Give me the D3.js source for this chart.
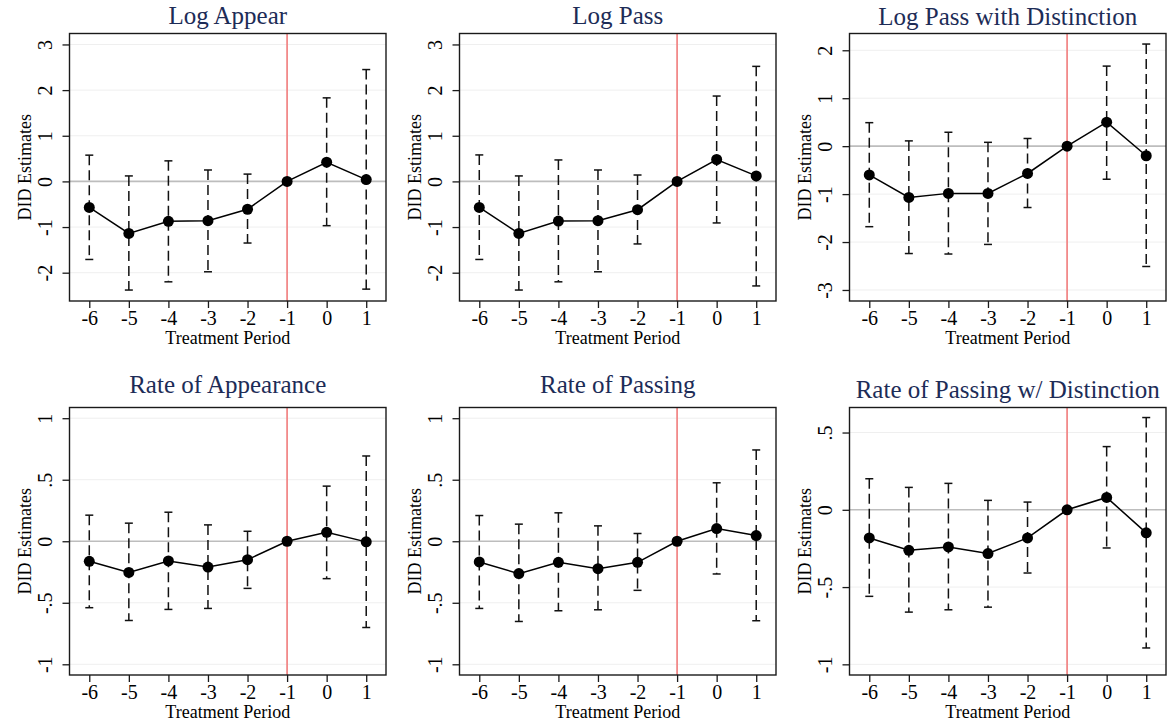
<!DOCTYPE html>
<html>
<head>
<meta charset="utf-8">
<script src="https://cdn.jsdelivr.net/npm/d3@7"></script>
<style>
  html, body { margin: 0; padding: 0; background: #fff; }
  svg { display: block; }
  text { font-family: "Liberation Serif", "Times New Roman", serif; }
</style>
</head>
<body>
<svg id="chart" width="1172" height="728"></svg>
<script>
// ---------- DATA ----------
const periods = [-6, -5, -4, -3, -2, -1, 0, 1];
const periodTicks = [-6, -5, -4, -3, -2, -1, 0, 1];
const eventPeriod = -1;

const titles = [
  "Log Appear", "Log Pass", "Log Pass with Distinction",
  "Rate of Appearance", "Rate of Passing", "Rate of Passing w/ Distinction"
];

// Log Appear
const estLogAppear = [-0.57, -1.14, -0.875, -0.86, -0.61, 0, 0.42, 0.04];
const loLogAppear  = [-1.71, -2.38, -2.20, -1.98, -1.35, null, -0.97, -2.36];
const hiLogAppear  = [0.575, 0.12, 0.45, 0.25, 0.16, null, 1.83, 2.45];

// Log Pass
const estLogPass = [-0.57, -1.14, -0.87, -0.86, -0.62, 0, 0.48, 0.12];
const loLogPass  = [-1.71, -2.38, -2.20, -1.98, -1.37, null, -0.91, -2.29];
const hiLogPass  = [0.58, 0.12, 0.47, 0.25, 0.14, null, 1.87, 2.52];

// Log Pass with Distinction
const estLogDist = [-0.60, -1.07, -0.985, -0.985, -0.57, 0, 0.50, -0.20];
const loLogDist  = [-1.68, -2.24, -2.25, -2.05, -1.28, null, -0.69, -2.51];
const hiLogDist  = [0.49, 0.11, 0.29, 0.08, 0.16, null, 1.67, 2.13];

// Rate of Appearance
const estRateAppear = [-0.163, -0.253, -0.160, -0.210, -0.150, 0, 0.073, -0.005];
const loRateAppear  = [-0.540, -0.644, -0.554, -0.546, -0.383, null, -0.304, -0.701];
const hiRateAppear  = [0.212, 0.147, 0.236, 0.133, 0.081, null, 0.448, 0.693];

// Rate of Passing
const estRatePass = [-0.168, -0.263, -0.171, -0.223, -0.171, 0, 0.103, 0.046];
const loRatePass  = [-0.546, -0.652, -0.565, -0.557, -0.399, null, -0.266, -0.646];
const hiRatePass  = [0.209, 0.139, 0.231, 0.125, 0.063, null, 0.475, 0.742];

// Rate of Passing w/ Distinction
const estRateDist = [-0.182, -0.262, -0.240, -0.283, -0.182, 0, 0.080, -0.149];
const loRateDist  = [-0.560, -0.662, -0.647, -0.630, -0.409, null, -0.247, -0.894];
const hiRateDist  = [0.201, 0.145, 0.171, 0.061, 0.050, null, 0.409, 0.597];

// y tick labels
const ticksLog     = [-2, -1, 0, 1, 2, 3];
const ticksLogDist = [-3, -2, -1, 0, 1, 2];
const ticksRate    = [-1, -0.5, 0, 0.5, 1];
const ticksRateDist = [-1, -0.5, 0, 0.5];

// y axis ranges
const domLog     = [-2.62, 3.24];
const domLogDist = [-3.23, 2.35];
const domRate    = [-1.087, 1.087];
const domRateDist = [-1.069, 0.662];

const xLabel = "Treatment Period";
const yLabel = "DID Estimates";

// ---------- PANELS ----------
const panels = [
  { title: titles[0], est: estLogAppear, lo: loLogAppear, hi: hiLogAppear, ticks: ticksLog, dom: domLog },
  { title: titles[1], est: estLogPass, lo: loLogPass, hi: hiLogPass, ticks: ticksLog, dom: domLog },
  { title: titles[2], est: estLogDist, lo: loLogDist, hi: hiLogDist, ticks: ticksLogDist, dom: domLogDist },
  { title: titles[3], est: estRateAppear, lo: loRateAppear, hi: hiRateAppear, ticks: ticksRate, dom: domRate },
  { title: titles[4], est: estRatePass, lo: loRatePass, hi: hiRatePass, ticks: ticksRate, dom: domRate },
  { title: titles[5], est: estRateDist, lo: loRateDist, hi: hiRateDist, ticks: ticksRateDist, dom: domRateDist }
];

const svg = d3.select("#chart");
const colX = [0, 390, 780];
const rowY = [0, 374];
const plotL = 69.5, plotW = 316.5, plotT = 33.5, plotH = 267.5;
const titleColor = "#1d2c57";
const titleBase = [23.5, 23.5, 24.5, 19, 18.5, 23.5];

const fmtY = d => String(d).replace("0.", ".");
const fmtX = d => String(d);

panels.forEach((p, i) => {
  const col = i % 3, row = Math.floor(i / 3);
  const g = svg.append("g").attr("transform", `translate(${colX[col]},${rowY[row]})`);

  const x = d3.scaleLinear().domain([-6.5, 1.5]).range([plotL, plotL + plotW]);
  const y = d3.scaleLinear().domain(p.dom).range([plotT + plotH, plotT]);

  // gridlines
  g.append("g").selectAll("line").data(p.ticks.filter(t => t !== 0)).join("line")
    .attr("x1", plotL).attr("x2", plotL + plotW)
    .attr("y1", d => y(d)).attr("y2", d => y(d))
    .attr("stroke", "#efefef").attr("stroke-width", 1);

  // zero line
  g.append("line")
    .attr("x1", plotL).attr("x2", plotL + plotW)
    .attr("y1", y(0)).attr("y2", y(0))
    .attr("stroke", "#bdbdbd").attr("stroke-width", 1.6);

  // red event line
  g.append("line")
    .attr("x1", x(eventPeriod)).attr("x2", x(eventPeriod))
    .attr("y1", plotT).attr("y2", plotT + plotH)
    .attr("stroke", "#f28a8a").attr("stroke-width", 1.8);

  // error bars: dashed stems with solid caps
  const bars = periods.map((t, k) => ({ t, lo: p.lo[k], hi: p.hi[k] })).filter(d => d.lo !== null);
  const capW = 4;
  const eb = g.append("g");
  eb.selectAll("line.stem").data(bars).join("line").attr("class", "stem")
    .attr("x1", d => x(d.t)).attr("x2", d => x(d.t))
    .attr("y1", d => y(d.hi)).attr("y2", d => y(d.lo))
    .attr("stroke", "#111").attr("stroke-width", 1.5)
    .attr("stroke-dasharray", "10,5");
  eb.selectAll("line.capT").data(bars).join("line").attr("class", "capT")
    .attr("x1", d => x(d.t) - capW).attr("x2", d => x(d.t) + capW)
    .attr("y1", d => y(d.hi)).attr("y2", d => y(d.hi))
    .attr("stroke", "#111").attr("stroke-width", 1.5);
  eb.selectAll("line.capB").data(bars).join("line").attr("class", "capB")
    .attr("x1", d => x(d.t) - capW).attr("x2", d => x(d.t) + capW)
    .attr("y1", d => y(d.lo)).attr("y2", d => y(d.lo))
    .attr("stroke", "#111").attr("stroke-width", 1.5);

  // connecting line
  const pts = periods.map((t, k) => ({ t, v: p.est[k] }));
  g.append("path").datum(pts)
    .attr("d", d3.line().x(d => x(d.t)).y(d => y(d.v)))
    .attr("fill", "none").attr("stroke", "#000").attr("stroke-width", 1.5);

  // points
  g.append("g").selectAll("circle").data(pts).join("circle")
    .attr("cx", d => x(d.t)).attr("cy", d => y(d.v)).attr("r", 5.5)
    .attr("fill", "#000");

  // frame
  g.append("rect")
    .attr("x", plotL).attr("y", plotT).attr("width", plotW).attr("height", plotH)
    .attr("fill", "none").attr("stroke", "#1a1a1a").attr("stroke-width", 1.4);

  // x axis
  const xAxis = d3.axisBottom(x).tickValues(periodTicks).tickFormat(fmtX).tickSize(7).tickPadding(3);
  const xa = g.append("g").attr("transform", `translate(0,${plotT + plotH})`).call(xAxis);
  xa.select(".domain").remove();
  xa.selectAll(".tick line").attr("stroke", "#1a1a1a").attr("stroke-width", 1.3);
  xa.selectAll(".tick text").attr("font-family", "Liberation Serif, serif")
    .attr("font-size", 20).attr("fill", "#000");

  // y axis
  const yAxis = d3.axisLeft(y).tickValues(p.ticks).tickFormat(fmtY).tickSize(7).tickPadding(0);
  const ya = g.append("g").attr("transform", `translate(${plotL},0)`).call(yAxis);
  ya.select(".domain").remove();
  ya.selectAll(".tick line").attr("stroke", "#1a1a1a").attr("stroke-width", 1.3);
  ya.selectAll(".tick text")
    .attr("font-family", "Liberation Serif, serif").attr("font-size", 20).attr("fill", "#000")
    .attr("text-anchor", "middle").attr("dy", null).attr("x", null)
    .attr("transform", "translate(-18,0) rotate(-90)");

  // axis titles
  g.append("text")
    .attr("x", plotL + plotW / 2).attr("y", plotT + plotH + 43)
    .attr("text-anchor", "middle").attr("font-size", 18).attr("fill", "#000")
    .text(xLabel);
  g.append("text")
    .attr("transform", `translate(31,${plotT + plotH / 2}) rotate(-90)`)
    .attr("text-anchor", "middle").attr("font-size", 18).attr("fill", "#000")
    .text(yLabel);

  // title
  g.append("text")
    .attr("x", plotL + plotW / 2).attr("y", titleBase[i])
    .attr("text-anchor", "middle").attr("font-size", 25).attr("fill", titleColor)
    .text(p.title);
});
</script>
</body>
</html>
